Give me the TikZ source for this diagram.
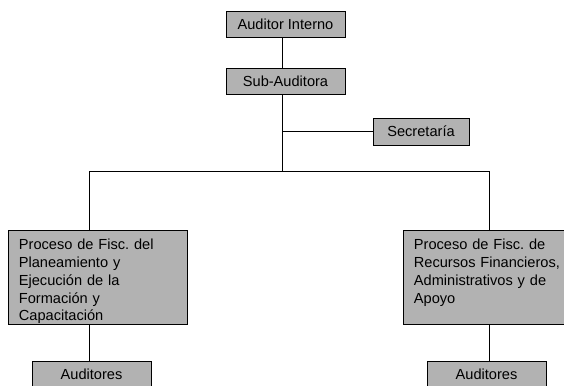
\documentclass[tikz,border=0pt]{standalone}
\usepackage{fontspec}
\setmainfont{Liberation Sans}
\usetikzlibrary{positioning}
\frenchspacing

\begin{document}
\begin{tikzpicture}[x=1pt, y=-1pt,
  cargo/.style={draw, fill=black!30, line width=.8pt, inner sep=0pt,
    font=\fontsize{14.6}{17.8}\selectfont},
  unidad/.style={cargo, minimum width=119pt, minimum height=26pt},
  proceso/.style={cargo, anchor=north west, align=left, inner xsep=10.5pt,
    text height=19.3pt, text depth=74.7pt},
  linea/.style={line width=.8pt}]

\useasboundingbox (0,0) rectangle (564,385);

\node[unidad] (auditor) at (285.5,24) {Auditor Interno};
\node[unidad] (sub) at (285.5,81) {Sub-Auditora};
\node[cargo, minimum width=96pt, minimum height=27pt] (secre) at (421,131.5) {Secretaría};

\node[proceso, text width=158pt] (pleft) at (8,230)
  {Proceso de Fisc. del\\Planeamiento y\\Ejecución de la\\Formación y\\Capacitación};
\node[proceso, text width=140pt] (pright) at (403,230)
  {Proceso de Fisc. de\\\mbox{Recursos Financieros,}\\Administrativos y de\\Apoyo};

\node[unidad] (audleft) at (91.5,374) {Auditores};
\node[unidad] (audright) at (486.5,374) {Auditores};

\coordinate (trunk) at (282,171);
\coordinate (busleft) at (89,171);
\coordinate (busright) at (489,171);

\path[draw, linea] (auditor.south -| trunk) -- (sub.north -| trunk);
\path[draw, linea] (sub.south -| trunk) -- (trunk);
\path[draw, linea] (secre.west) -- (secre.west -| trunk);

\path[draw, linea] (busleft) -- (busright);
\path[draw, linea] (busleft) -- (pleft.north -| busleft);
\path[draw, linea] (busright) -- (pright.north -| busright);

\path[draw, linea] (pleft.south -| busleft) -- (audleft.north -| busleft);
\path[draw, linea] (pright.south -| busright) -- (audright.north -| busright);

\end{tikzpicture}
\end{document}
